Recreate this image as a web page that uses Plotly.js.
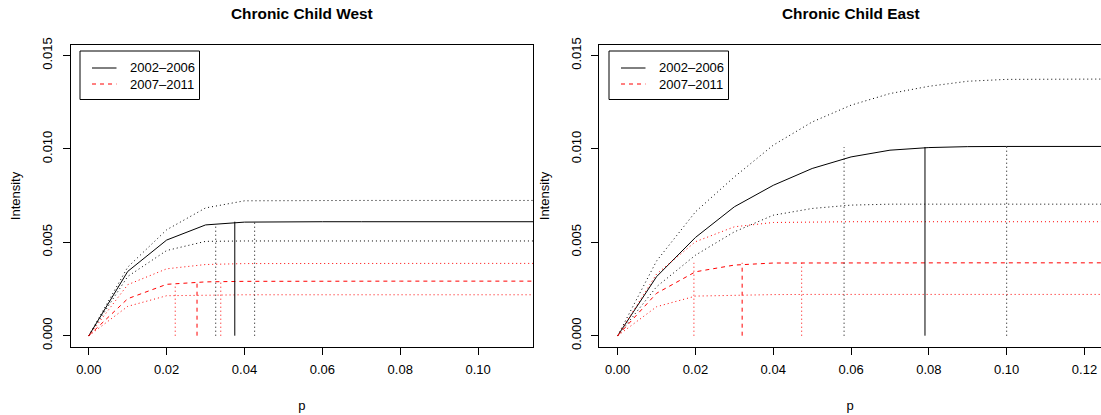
<!DOCTYPE html>
<html>
<head>
<meta charset="utf-8">
<script src="https://cdn.plot.ly/plotly-3.0.1.min.js"></script>
<style>html,body{margin:0;padding:0;background:#fff;}#chart{width:1101px;height:415px;}</style>
</head>
<body>
<div id="chart"></div>
<script>
// ---------- data ----------
const pGrid = [0, 0.01, 0.02, 0.03, 0.04, 0.05, 0.06, 0.07, 0.08, 0.09, 0.10, 0.11, 0.12, 0.13];

// Chronic Child West
const westEst1   = [0, 0.00344, 0.00512, 0.00593, 0.00608, 0.0061, 0.0061, 0.0061, 0.0061, 0.0061, 0.0061, 0.0061, 0.0061, 0.0061];
const westUp1    = [0, 0.00367, 0.00567, 0.00684, 0.00722, 0.00724, 0.00724, 0.00724, 0.00724, 0.00724, 0.00724, 0.00724, 0.00724, 0.00724];
const westLo1    = [0, 0.00317, 0.00456, 0.00505, 0.00507, 0.00507, 0.00507, 0.00507, 0.00507, 0.00507, 0.00507, 0.00507, 0.00507, 0.00507];
const westEst2   = [0, 0.00198, 0.00275, 0.00288, 0.00291, 0.00292, 0.00292, 0.00292, 0.00292, 0.00292, 0.00292, 0.00292, 0.00292, 0.00292];
const westUp2    = [0, 0.00273, 0.00358, 0.00381, 0.00386, 0.00387, 0.00387, 0.00387, 0.00387, 0.00387, 0.00387, 0.00387, 0.00387, 0.00387];
const westLo2    = [0, 0.00157, 0.00214, 0.00218, 0.00219, 0.00219, 0.00219, 0.00219, 0.00219, 0.00219, 0.00219, 0.00219, 0.00219, 0.00219];
// change points (lower CI, estimate, upper CI) and their heights
const westCp1    = [0.0326, 0.0375, 0.0426];
const westCpTop1 = [0.00597, 0.0061, 0.0061];
const westCp2    = [0.0222, 0.0278, 0.0339];
const westCpTop2 = [0.00277, 0.0029, 0.0029];

// Chronic Child East
const eastEst1   = [0, 0.00316, 0.00526, 0.0069, 0.00805, 0.00895, 0.00957, 0.00993, 0.01007, 0.01012, 0.01013, 0.01013, 0.01013, 0.01013];
const eastUp1    = [0, 0.00400, 0.00663, 0.0085, 0.0102, 0.01144, 0.01234, 0.01296, 0.01335, 0.01362, 0.01372, 0.01374, 0.01374, 0.01374];
const eastLo1    = [0, 0.00262, 0.00431, 0.00556, 0.00645, 0.00681, 0.00699, 0.00704, 0.00704, 0.00704, 0.00704, 0.00704, 0.00704, 0.00704];
const eastEst2   = [0, 0.00227, 0.00342, 0.00378, 0.00389, 0.0039, 0.0039, 0.0039, 0.0039, 0.0039, 0.0039, 0.0039, 0.0039, 0.0039];
const eastUp2    = [0, 0.0033, 0.00503, 0.00583, 0.00606, 0.0061, 0.0061, 0.0061, 0.0061, 0.0061, 0.0061, 0.0061, 0.0061, 0.0061];
const eastLo2    = [0, 0.00155, 0.00212, 0.00218, 0.0022, 0.00221, 0.00221, 0.00221, 0.00221, 0.00221, 0.00221, 0.00221, 0.00221, 0.00221];
const eastCp1    = [0.0582, 0.079, 0.100];
const eastCpTop1 = [0.0101, 0.0101, 0.0101];
const eastCp2    = [0.0196, 0.032, 0.0473];
const eastCpTop2 = [0.0039, 0.0039, 0.0039];

const periods = ['2002\u20132006', '2007\u20132011'];
const panelTitles = ['Chronic Child West', 'Chronic Child East'];
const xTicksWest = [0, 0.02, 0.04, 0.06, 0.08, 0.10];
const xTicksEast = [0, 0.02, 0.04, 0.06, 0.08, 0.10, 0.12];
const yTicks = [0, 0.005, 0.010, 0.015];

// ---------- drawing ----------
const W = 1101, H = 415;
const FONT = 'Liberation Sans, Arial, Helvetica, sans-serif';
const DOT = '1px,3px', DASH = '4px,4px';
const BLACK = '#000000', RED = '#ff0000';
const px = v => v / W, py = v => 1 - v / H;

const traces = [];
function line(xa, ya, x, y, color, dash) {
  traces.push({x: x, y: y, xaxis: xa, yaxis: ya, type: 'scatter', mode: 'lines',
    line: {color: color, width: 1, dash: dash}, showlegend: false, hoverinfo: 'skip'});
}
function panel(xa, ya, e1, u1, l1, e2, u2, l2, cp1, top1, cp2, top2) {
  line(xa, ya, pGrid, u1, BLACK, DOT);
  line(xa, ya, pGrid, e1, BLACK, 'solid');
  line(xa, ya, pGrid, l1, BLACK, DOT);
  line(xa, ya, pGrid, u2, RED, DOT);
  line(xa, ya, pGrid, e2, RED, DASH);
  line(xa, ya, pGrid, l2, RED, DOT);
  const st1 = [DOT, 'solid', DOT], st2 = [DOT, DASH, DOT];
  cp1.forEach((p, i) => line(xa, ya, [p, p], [0, top1[i]], BLACK, st1[i]));
  cp2.forEach((p, i) => line(xa, ya, [p, p], [0, top2[i]], RED, st2[i]));
}
panel('x', 'y', westEst1, westUp1, westLo1, westEst2, westUp2, westLo2, westCp1, westCpTop1, westCp2, westCpTop2);
panel('x2', 'y2', eastEst1, eastUp1, eastLo1, eastEst2, eastUp2, eastLo2, eastCp1, eastCpTop1, eastCp2, eastCpTop2);

const yDomain = [py(347), py(45)];
function xAxis(domain, range, ticks, anchor) {
  return {domain: domain, range: range, anchor: anchor, tickmode: 'array', tickvals: ticks,
    ticktext: ticks.map(t => t.toFixed(2)), ticks: 'outside', ticklen: 7, tickwidth: 1, tickcolor: '#000',
    ticklabelstandoff: 3,
    showline: true, linecolor: '#000', linewidth: 1, mirror: true, showgrid: false, zeroline: false,
    tickfont: {family: FONT, size: 13, color: '#000'},
    title: {text: 'p', font: {family: FONT, size: 13, color: '#000'}, standoff: 25}};
}
function yAxis(anchor) {
  return {domain: yDomain, range: [-0.000605, 0.01556], anchor: anchor, tickmode: 'array', tickvals: yTicks,
    ticktext: yTicks.map(t => t.toFixed(3)), ticks: 'outside', ticklen: 7, tickwidth: 1, tickcolor: '#000',
    ticklabelstandoff: 5,
    tickangle: -90, showline: true, linecolor: '#000', linewidth: 1, mirror: true, showgrid: false, zeroline: false,
    tickfont: {family: FONT, size: 13, color: '#000'},
    title: {text: 'Intensity', font: {family: FONT, size: 13, color: '#000'}, standoff: 16}};
}

const shapes = [], annotations = [];
function legend(bx) {
  shapes.push({type: 'rect', xref: 'paper', yref: 'paper', x0: px(bx), x1: px(bx + 119.5), y0: py(51), y1: py(99.5),
    line: {color: '#000', width: 1}, fillcolor: 'rgba(0,0,0,0)'});
  const rows = [68, 84], cols = [BLACK, RED];
  rows.forEach((ry, i) => {
    shapes.push({type: 'line', xref: 'paper', yref: 'paper', x0: px(bx + 12), x1: px(bx + 36.5), y0: py(ry), y1: py(ry),
      line: {color: cols[i], width: 1, dash: i ? DASH : 'solid'}});
    annotations.push({xref: 'paper', yref: 'paper', x: px(bx + 47.5), y: py(ry), xanchor: 'left', yanchor: 'middle',
      text: periods[i], showarrow: false, font: {family: FONT, size: 13, color: '#000'}});
  });
}
legend(80);
legend(609);
[[301.5, 0], [851, 1]].forEach(([cx, i]) => {
  annotations.push({xref: 'paper', yref: 'paper', x: px(cx), y: py(13.5), xanchor: 'center', yanchor: 'middle',
    text: '<b>' + panelTitles[i] + '</b>', showarrow: false, font: {family: FONT, size: 15.4, color: '#000'}});
});

const layout = {
  width: W, height: H, margin: {l: 0, r: 0, t: 0, b: 0}, paper_bgcolor: '#fff', plot_bgcolor: '#fff',
  showlegend: false, font: {family: FONT, color: '#000'},
  xaxis: xAxis([px(70.5), px(533)], [-0.0047, 0.1141], xTicksWest, 'y'),
  yaxis: yAxis('x'),
  xaxis2: xAxis([px(599), 1], [-0.0048, 0.12425], xTicksEast, 'y2'),
  yaxis2: yAxis('x2'),
  shapes: shapes, annotations: annotations
};
Plotly.newPlot('chart', traces, layout, {staticPlot: true, displayModeBar: false});
</script>
</body>
</html>
